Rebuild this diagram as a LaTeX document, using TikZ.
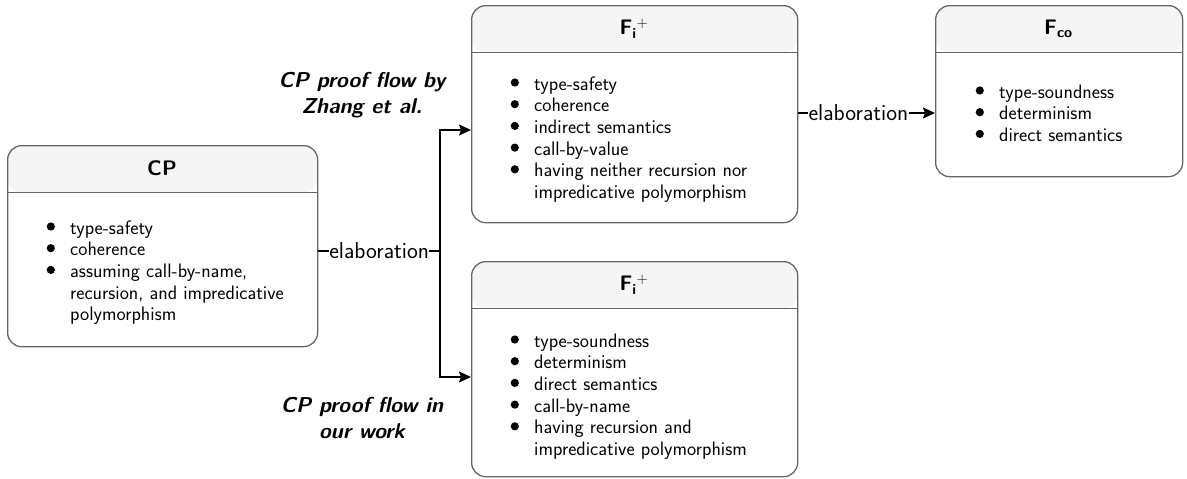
\documentclass[tikz,border=0pt]{standalone}
\usetikzlibrary{arrows.meta}
\definecolor{boxline}{RGB}{102,102,102}
\definecolor{headfill}{RGB}{245,245,245}
\tikzset{
  card/.style={draw=boxline, line width=1.3pt, rounded corners=14pt, inner sep=0pt,
    minimum width=#1, path picture={
      \fill[headfill] (path picture bounding box.north west) rectangle ([yshift=-47pt]path picture bounding box.north east);
      \draw[boxline, line width=1.3pt] ([yshift=-47pt]path picture bounding box.north west) -- ([yshift=-47pt]path picture bounding box.north east);
    }},
  title/.style={font=\sffamily\bfseries\fontsize{21}{25}\selectfont, inner sep=0pt},
  body/.style={font=\sffamily\fontsize{19.5}{21.7}\selectfont, anchor=base west, inner sep=0pt, align=left},
  lab/.style={font=\sffamily\fontsize{23}{27}\selectfont, fill=white, inner sep=0.5pt},
  flow/.style={font=\sffamily\bfseries\itshape\fontsize{21.5}{26}\selectfont, align=center, inner sep=0pt},
  conn/.style={draw=black, line width=1.5pt},
  arr/.style={conn, -{Stealth[length=12pt,width=11pt,inset=2pt]}},
}
\newcommand{\bl}{\makebox[24pt][l]{\hspace{0.5pt}\tikz[baseline=-7.5pt]\fill (4.1pt,0pt) circle[radius=4.1pt];}}
\begin{document}
\begin{tikzpicture}[x=1pt,y=-1pt]
\useasboundingbox (0,0) rectangle (1187,479);
% boxes
\node[card=310pt, minimum height=201pt, anchor=north west] (cp) at (7,145) {};
\node[card=326pt, minimum height=217pt, anchor=north west] (fi1) at (471,5) {};
\node[card=247pt, minimum height=171pt, anchor=north west] (fco) at (935,5) {};
\node[card=326pt, minimum height=215pt, anchor=north west] (fi2) at (471,261) {};
% titles
\node[title] (cpt) at (162,168.5) {CP};
\node[title] (fi1t) at (634,28.5) {F\textsubscript{i}\textsuperscript{\mdseries+}};
\node[title] (fcot) at (1058.5,28.5) {F\textsubscript{co}};
\node[title] (fi2t) at (634,284.5) {F\textsubscript{i}\textsuperscript{\mdseries+}};
% contents
\node[body] (cpb) at (46,234) {\begin{tabular}[t]{@{}l@{}l@{}}
\bl & type-safety\\ \bl & coherence\\ \bl & assuming call-by-name,\\ & recursion, and impredicative\\ & polymorphism\end{tabular}};
\node[body] (fi1b) at (510,90) {\begin{tabular}[t]{@{}l@{}l@{}}
\bl & type-safety\\ \bl & coherence\\ \bl & indirect semantics\\ \bl & call-by-value\\ \bl & having neither recursion nor\\ & impredicative polymorphism\end{tabular}};
\node[body] (fcob) at (975,98) {\begin{tabular}[t]{@{}l@{}l@{}}
\bl & type-soundness\\ \bl & determinism\\ \bl & direct semantics\end{tabular}};
\node[body] (fi2b) at (510,347) {\begin{tabular}[t]{@{}l@{}l@{}}
\bl & type-soundness\\ \bl & determinism\\ \bl & direct semantics\\ \bl & call-by-name\\ \bl & having recursion and\\ & impredicative polymorphism\end{tabular}};
% flow labels
\node[flow, anchor=base] (zl) at (362,113) {CP proof flow by\\Zhang et al.};
\node[flow, anchor=base] (ol) at (362,438) {CP proof flow in\\our work};
% connectors
\coordinate (split) at (440,251);
\draw[conn] (cp.east |- 0,251) -- node[lab] {elaboration} (split);
\draw[arr] (split) |- (fi1.west |- 0,130);
\draw[arr] (split) |- (fi2.west |- 0,377);
\draw[arr] (fi1.east |- 0,113) -- node[lab, pos=0.44] {elaboration} (fco.west |- 0,113);
\end{tikzpicture}
\end{document}
